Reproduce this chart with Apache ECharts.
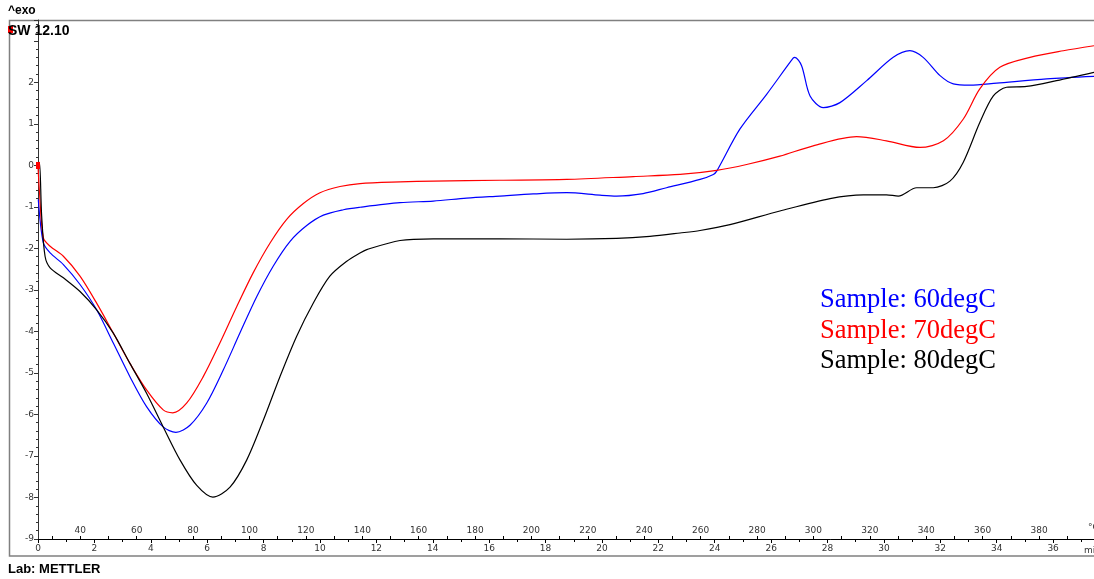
<!DOCTYPE html>
<html>
<head>
<meta charset="utf-8">
<script src="https://cdn.jsdelivr.net/npm/echarts@6/dist/echarts.min.js"></script>
<style>
html,body{margin:0;padding:0;background:#fff;}
#chart{width:1094px;height:579px;}
</style>
</head>
<body>
<div id="chart"></div>
<script>
// ---- data (time in min, heat flow value) ----
const seriesNames = ['Sample: 60degC', 'Sample: 70degC', 'Sample: 80degC'];
const seriesColors = ['#0000ff', '#ff0000', '#000000'];

const sample60 = [
  [0.01,-0.82],[0.19,-1.87],[0.43,-2.11],[0.90,-2.39],[1.49,-2.87],[2.08,-3.48],[2.67,-4.28],
  [3.26,-5.09],[3.85,-5.81],[4.44,-6.30],[4.89,-6.43],[5.39,-6.26],[5.98,-5.73],[6.57,-4.93],
  [7.16,-4.04],[7.76,-3.16],[8.34,-2.43],[8.94,-1.83],[9.53,-1.45],[10.12,-1.20],[10.83,-1.07],
  [11.42,-1.01],[12.84,-0.90],[14.02,-0.86],[15.20,-0.79],[16.38,-0.74],[17.56,-0.69],[18.75,-0.66],
  [19.93,-0.72],[20.52,-0.74],[21.46,-0.68],[22.29,-0.54],[23.48,-0.34],[23.95,-0.22],[24.07,-0.14],
  [24.89,0.87],[25.84,1.71],[26.78,2.58],[26.84,2.60],[27.08,2.40],[27.38,1.67],[27.85,1.39],
  [28.44,1.51],[29.39,2.04],[30.33,2.60],[30.92,2.76],[31.39,2.60],[31.99,2.16],[32.46,1.96],
  [33.05,1.93],[34.00,1.98],[35.77,2.08],[37.45,2.14]
];
const sample70 = [
  [0.00,-0.02],[0.05,-0.62],[0.19,-1.75],[0.43,-1.95],[0.90,-2.19],[1.49,-2.67],[2.08,-3.32],
  [2.67,-4.04],[3.26,-4.77],[3.85,-5.41],[4.44,-5.89],[4.78,-5.96],[5.27,-5.73],[5.86,-5.09],
  [6.45,-4.28],[7.05,-3.40],[7.63,-2.59],[8.23,-1.87],[8.82,-1.30],[9.41,-0.92],[10.00,-0.66],
  [10.71,-0.51],[11.42,-0.44],[12.84,-0.40],[14.02,-0.38],[16.38,-0.36],[18.75,-0.34],[21.11,-0.27],
  [22.77,-0.22],[24.07,-0.12],[25.13,0.02],[26.31,0.22],[27.49,0.47],[29.03,0.69],[30.09,0.59],
  [31.28,0.43],[32.11,0.59],[32.81,1.11],[33.40,1.84],[34.11,2.36],[35.18,2.60],[36.36,2.76],
  [37.45,2.88]
];
const sample80 = [
  [0.00,0.02],[0.05,0.07],[0.13,-1.22],[0.25,-2.19],[0.43,-2.47],[0.90,-2.71],[1.49,-3.04],
  [2.08,-3.48],[2.67,-4.04],[3.26,-4.77],[3.85,-5.49],[4.44,-6.30],[5.04,-7.10],[5.63,-7.71],
  [6.20,-7.99],[6.81,-7.75],[7.40,-7.10],[7.99,-6.14],[8.58,-5.09],[9.17,-4.12],[9.76,-3.32],
  [10.35,-2.67],[10.95,-2.31],[11.42,-2.11],[11.66,-2.03],[12.84,-1.81],[14.02,-1.77],[16.38,-1.77],
  [18.75,-1.78],[20.52,-1.76],[21.70,-1.71],[22.77,-1.63],[23.48,-1.57],[24.54,-1.43],[26.31,-1.10],
  [28.09,-0.80],[29.27,-0.71],[30.09,-0.71],[30.51,-0.74],[31.16,-0.54],[31.75,-0.54],[32.34,-0.38],
  [32.81,0.07],[33.40,1.03],[33.88,1.67],[34.35,1.88],[35.06,1.90],[36.12,2.04],[37.45,2.24]
];

const timeRange = [0, 37.45];          // min
const tempRange = [30, 399.5];         // degC (T = 25 + 10 t)
const valueRange = [-9, 3.5];

const chart = echarts.init(document.getElementById('chart'), null, {renderer: 'canvas'});
const lblFont = {fontFamily: 'DejaVu Sans, sans-serif', fontSize: 9, color: '#333'};

const option = {
  animation: false,
  backgroundColor: '#ffffff',
  grid: [
    {left: 38, right: 0, top: 20, bottom: 40, containLabel: false},
    {left: 52.1, right: 0, top: 20, bottom: 40, containLabel: false}
  ],
  xAxis: [
    {
      type: 'value', gridIndex: 0, min: timeRange[0], max: timeRange[1], interval: 2,
      position: 'bottom',
      axisLine: {show: true, onZero: false, lineStyle: {color: '#000', width: 1}},
      axisTick: {show: true, length: 4, lineStyle: {color: '#000'}},
      minorTick: {show: true, splitNumber: 2, length: 3, lineStyle: {color: '#000'}},
      splitLine: {show: false},
      axisLabel: Object.assign({margin: 5, showMaxLabel: false,
        formatter: v => (Math.abs(v - Math.round(v)) < 1e-6 && v <= 36) ? String(v) : ''}, lblFont)
    },
    {
      type: 'value', gridIndex: 1, min: tempRange[0], max: tempRange[1], interval: 10,
      position: 'bottom',
      axisLine: {show: false, onZero: false},
      axisTick: {show: true, inside: true, length: 3, lineStyle: {color: '#000'}},
      splitLine: {show: false},
      axisLabel: Object.assign({inside: true, margin: 4, showMaxLabel: false, hideOverlap: false,
        formatter: v => (v % 20 === 0 && v < 399) ? String(v) : ''}, lblFont)
    }
  ],
  yAxis: [
    {
      type: 'value', gridIndex: 0, min: valueRange[0], max: valueRange[1], interval: 1,
      axisLine: {show: true, onZero: false, lineStyle: {color: '#333', width: 1}},
      axisTick: {show: true, length: 4, lineStyle: {color: '#333'}},
      minorTick: {show: true, splitNumber: 5, length: 2, lineStyle: {color: '#333'}},
      splitLine: {show: false},
      axisLabel: Object.assign({margin: 4, showMaxLabel: false,
        formatter: v => (Number.isInteger(v) && v <= 2) ? String(v) : ''}, lblFont)
    },
    {
      type: 'value', gridIndex: 1, min: valueRange[0], max: valueRange[1], show: false
    }
  ],
  series: [
    {name: seriesNames[0], type: 'line', xAxisIndex: 0, yAxisIndex: 0, data: sample60, showSymbol: false,
     smooth: 0.3, lineStyle: {color: seriesColors[0], width: 1.2}, itemStyle: {color: seriesColors[0]}},
    {name: seriesNames[1], type: 'line', xAxisIndex: 0, yAxisIndex: 0, data: sample70, showSymbol: false,
     smooth: 0.3, lineStyle: {color: seriesColors[1], width: 1.2}, itemStyle: {color: seriesColors[1]}},
    {name: seriesNames[2], type: 'line', xAxisIndex: 0, yAxisIndex: 0, data: sample80, showSymbol: false,
     smooth: 0.3, lineStyle: {color: seriesColors[2], width: 1.2}, itemStyle: {color: seriesColors[2]}}
  ],
  graphic: [
    {type: 'rect', shape: {x: 9.5, y: 20.5, width: 1100, height: 535.5}, silent: true,
     style: {fill: 'none', stroke: '#808080', lineWidth: 1.5}, z: 0},
    {type: 'text', left: 8, top: 5, style: {text: '^exo', font: 'bold 12px "Liberation Sans", Arial, sans-serif', fill: '#000'}},
    {type: 'rect', shape: {x: 8, y: 26, width: 5, height: 7}, style: {fill: '#ff0000'}, z: 5},
    {type: 'text', left: 8, top: 24, style: {text: 'SW 12.10', font: 'bold 14px "Liberation Sans", Arial, sans-serif', fill: '#000'}, z: 6},
    {type: 'rect', shape: {x: 36, y: 162, width: 4, height: 7}, style: {fill: '#ff0000'}, z: 5},
    {type: 'text', left: 8, top: 563, style: {text: 'Lab: METTLER', font: 'bold 13px "Liberation Sans", Arial, sans-serif', fill: '#000'}},
    {type: 'text', left: 1084, top: 546, style: {text: 'min', font: '9px "DejaVu Sans", sans-serif', fill: '#333'}},
    {type: 'text', left: 1088, top: 523, style: {text: '°C', font: '9px "DejaVu Sans", sans-serif', fill: '#333'}},
    {type: 'text', left: 820, top: 287, style: {text: seriesNames[0], font: '26.5px "Liberation Serif", "Times New Roman", serif', fill: seriesColors[0]}},
    {type: 'text', left: 820, top: 318, style: {text: seriesNames[1], font: '26.5px "Liberation Serif", "Times New Roman", serif', fill: seriesColors[1]}},
    {type: 'text', left: 820, top: 348, style: {text: seriesNames[2], font: '26.5px "Liberation Serif", "Times New Roman", serif', fill: seriesColors[2]}}
  ]
};
chart.setOption(option);
</script>
</body>
</html>
